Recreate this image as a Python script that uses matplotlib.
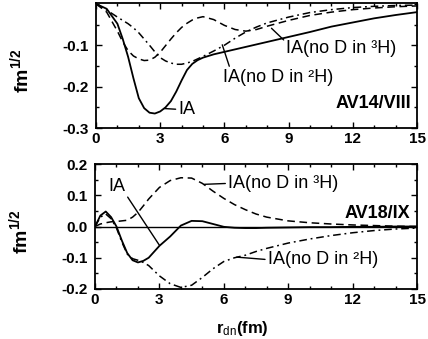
import numpy as np
import matplotlib
matplotlib.use("Agg")
import matplotlib.pyplot as plt
from matplotlib.ticker import MultipleLocator

plt.rcParams['font.family'] = ['Liberation Sans', 'DejaVu Sans']
plt.rcParams['mathtext.fontset'] = 'custom'
plt.rcParams['mathtext.rm'] = 'Liberation Sans'
plt.rcParams['mathtext.bf'] = 'Liberation Sans:bold'
plt.rcParams['mathtext.it'] = 'Liberation Sans:italic'

# ---- data ----
# top panel: AV14/VIII
r_top = [0, 0.5, 1.0, 1.25, 1.5, 1.75, 2.0, 2.25, 2.5, 2.75, 3.0, 3.25, 3.5, 3.75, 4.0,
         4.25, 4.5, 4.75, 5.0, 5.5, 6.0, 6.5, 7.0, 7.5, 8.0, 9.0, 10.0, 11.0, 12.0,
         13.0, 14.0, 15.0]
ia_top = [0, -0.012, -0.048, -0.085, -0.128, -0.180, -0.228, -0.252, -0.263, -0.265,
          -0.260, -0.250, -0.235, -0.212, -0.185, -0.160, -0.145, -0.136, -0.130,
          -0.122, -0.116, -0.110, -0.104, -0.098, -0.092, -0.080, -0.068, -0.055,
          -0.045, -0.035, -0.027, -0.020]
no2h_top = [0, -0.015, -0.032, -0.040, -0.048, -0.058, -0.070, -0.085, -0.100, -0.116,
            -0.130, -0.138, -0.143, -0.146, -0.146, -0.143, -0.139, -0.133, -0.127,
            -0.114, -0.100, -0.083, -0.068, -0.056, -0.046, -0.032, -0.021, -0.014,
            -0.009, -0.006, -0.004, -0.003]
no3h_top = [0, -0.020, -0.066, -0.092, -0.113, -0.126, -0.133, -0.137, -0.136, -0.129,
            -0.117, -0.101, -0.085, -0.070, -0.057, -0.047, -0.039, -0.034, -0.031,
            -0.038, -0.052, -0.062, -0.066, -0.062, -0.054, -0.040, -0.028, -0.020,
            -0.014, -0.010, -0.007, -0.005]

# bottom panel: AV18/IX
r_bot = [0, 0.25, 0.5, 0.75, 1.0, 1.25, 1.5, 1.75, 2.0, 2.25, 2.5, 3.0, 3.5, 4.0, 4.5,
         5.0, 5.5, 6.0, 6.5, 7.0, 7.5, 8.0, 9.0, 10.0, 11.0, 12.0, 13.0, 14.0, 15.0]
ia_bot = [0, 0.035, 0.048, 0.030, 0.0, -0.045, -0.085, -0.108, -0.115, -0.110, -0.100,
          -0.062, -0.032, 0.003, 0.018, 0.017, 0.008, -0.001, -0.004, -0.005, -0.005,
          -0.004, -0.003, -0.002, -0.002, -0.001, -0.001, 0.0, 0.0]
no3h_bot = [0, 0.008, 0.012, 0.015, 0.016, 0.018, 0.020, 0.030, 0.045, 0.066, 0.088,
            0.125, 0.147, 0.156, 0.155, 0.138, 0.113, 0.090, 0.070, 0.054, 0.040,
            0.030, 0.018, 0.012, 0.008, 0.005, 0.003, 0.001, 0.0]
no2h_bot = [0, 0.030, 0.040, 0.025, -0.005, -0.050, -0.088, -0.103, -0.108, -0.115,
            -0.125, -0.158, -0.183, -0.195, -0.188, -0.163, -0.135, -0.112, -0.100,
            -0.092, -0.080, -0.070, -0.053, -0.040, -0.029, -0.020, -0.013, -0.008,
            -0.005]

x_ticks = [0, 3, 6, 9, 12, 15]
top_yticks = [-0.1, -0.2, -0.3]
bot_yticks = [0.2, 0.1, 0.0, -0.1, -0.2]

label_ia = 'IA'
label_3h = 'IA(no D in \u00b3H)'
label_2h = 'IA(no D in \u00b2H)'

fig = plt.figure(figsize=(4.28, 3.39), dpi=100)
ax1 = fig.add_axes([0.2243, 0.6224, 0.75, 0.3687])
ax2 = fig.add_axes([0.2220, 0.1475, 0.7523, 0.3687])

dash = (0, (5, 3))
dashdot = (0, (5, 2.5, 1.2, 2.5))


def style(ax, yticks, ylim, yminor):
    ax.set_xlim(0, 15)
    ax.set_ylim(*ylim)
    ax.set_xticks(x_ticks)
    ax.set_xticklabels([str(t) for t in x_ticks], fontweight='bold', fontsize=11)
    ax.set_yticks(yticks)
    ax.set_yticklabels(['%.1f' % t if t != 0 else '0.0' for t in yticks],
                       fontweight='bold', fontsize=11)
    ax.xaxis.set_minor_locator(MultipleLocator(1))
    ax.yaxis.set_minor_locator(MultipleLocator(yminor))
    ax.tick_params(which='both', direction='in', top=True, right=True, width=1.0)
    ax.tick_params(which='major', length=4, pad=3)
    ax.tick_params(which='minor', length=2)
    ax.tick_params(axis='y', which='major', pad=5)
    for s in ax.spines.values():
        s.set_linewidth(1.3)
    ax.set_ylabel(r'fm$^{\mathbf{1/2}}$', fontsize=14, fontweight='bold')
    ax.yaxis.set_label_coords(-0.20, 0.46)


# top panel
ax1.plot(r_top, ia_top, color='black', lw=1.3, ls='-')
ax1.plot(r_top, no3h_top, color='black', lw=1.1, ls=dash)
ax1.plot(r_top, no2h_top, color='black', lw=1.1, ls=dashdot)
style(ax1, top_yticks, (-0.3, 0.002), 0.05)

arrow = dict(arrowstyle='-', color='black', lw=1.0, shrinkA=0, shrinkB=0)
ax1.annotate(label_ia, xy=(3.2, -0.253), xytext=(3.85, -0.255), fontsize=13,
             ha='left', va='center', arrowprops=dict(arrow, relpos=(0, 0.5)))
ax1.annotate(label_3h, xy=(8.2, -0.059), xytext=(8.9, -0.108), fontsize=13,
             ha='left', va='center', arrowprops=dict(arrow, relpos=(0.0, 0.85)))
ax1.annotate(label_2h, xy=(5.9, -0.099), xytext=(5.95, -0.178), fontsize=13,
             ha='left', va='center', arrowprops=dict(arrow, relpos=(0.07, 0.85)))
ax1.text(14.75, -0.24, 'AV14/VIII', fontsize=13, fontweight='bold',
         ha='right', va='center')

# bottom panel
ax2.axhline(0, color='black', lw=1.0)
ax2.plot(r_bot, ia_bot, color='black', lw=1.3, ls='-')
ax2.plot(r_bot, no3h_bot, color='black', lw=1.1, ls=dash)
ax2.plot(r_bot, no2h_bot, color='black', lw=1.1, ls=dashdot)
style(ax2, bot_yticks, (-0.2, 0.2), 0.05)
ax2.yaxis.set_label_coords(-0.20, 0.46)

ax2.annotate(label_ia, xy=(3.0, -0.06), xytext=(0.6, 0.128), fontsize=13,
             ha='left', va='center', arrowprops=dict(arrow, relpos=(0.95, 0.2)))
ax2.annotate(label_3h, xy=(5.1, 0.135), xytext=(6.2, 0.138), fontsize=13,
             ha='left', va='center', arrowprops=dict(arrow, relpos=(0, 0.5)))
ax2.annotate(label_2h, xy=(6.6, -0.098), xytext=(8.05, -0.106), fontsize=13,
             ha='left', va='center', arrowprops=dict(arrow, relpos=(0, 0.5)))
ax2.text(14.7, 0.042, 'AV18/IX', fontsize=13, fontweight='bold',
         ha='right', va='center')

ax2.set_xlabel(r'r$_{\mathrm{dn}}$(fm)', fontsize=12, fontweight='bold')
ax2.xaxis.set_label_coords(0.457, -0.24)

fig.savefig('out.png', dpi=100)
